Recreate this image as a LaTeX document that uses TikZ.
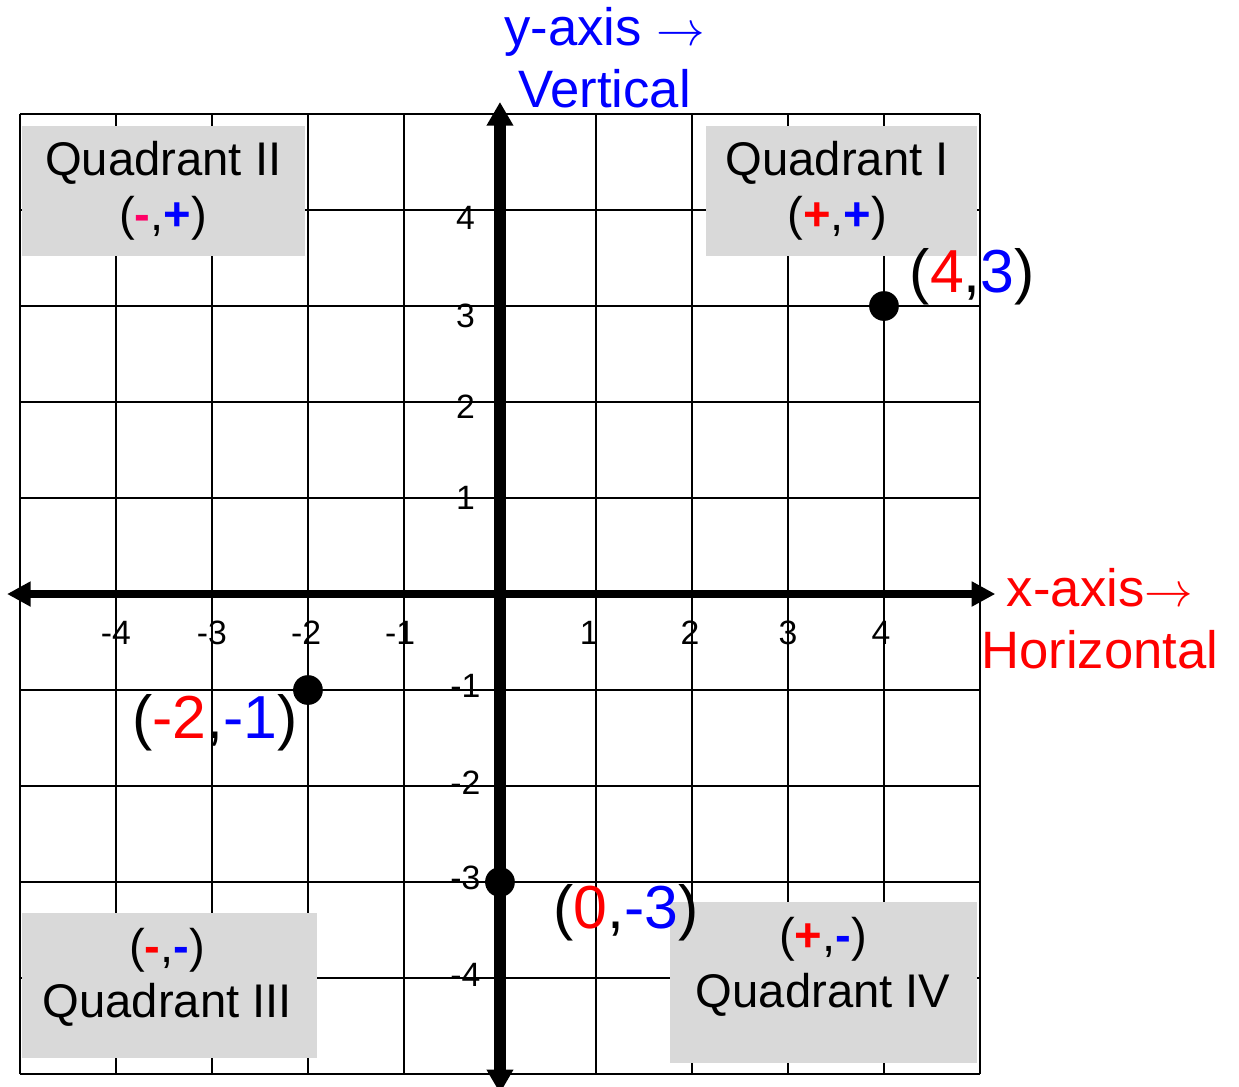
\documentclass[tikz,border=0pt]{standalone}
\usepackage{fontspec}
\setmainfont{Liberation Sans}
\usepackage{xcolor}
\usepackage{tikz}
\usetikzlibrary{positioning,arrows.meta,calc}

\definecolor{xred}{RGB}{255,0,0}
\definecolor{yblue}{RGB}{0,0,255}
\definecolor{negpink}{RGB}{255,0,102}
\definecolor{boxgray}{RGB}{217,217,217}

\newcommand{\xpart}[1]{\textcolor{xred}{#1}}
\newcommand{\ypart}[1]{\textcolor{yblue}{#1}}
\newcommand{\sgn}[2]{\textbf{\textcolor{#1}{#2}}}

\begin{document}
\begin{tikzpicture}[
    gridline/.style={draw=black, line width=0.75pt},
    xaxis/.style={{Triangle[length=7pt, width=7pt]}-{Triangle[length=7pt, width=7pt]}, line width=2.4pt},
    yaxis/.style={{Triangle[length=7pt, width=7.5pt]}-{Triangle[length=7pt, width=7.5pt]}, line width=3.6pt},
    qbox/.style={rectangle, fill=boxgray, inner sep=0pt, anchor=north west},
    qtext/.style={align=center, font=\fontsize{14}{16.4}\selectfont, inner sep=0pt},
    ptdot/.style={circle, fill=black, minimum size=0.31cm, inner sep=0pt},
    ptlab/.style={font=\fontsize{18}{21}\selectfont, inner sep=0pt},
    ticklab/.style={font=\fontsize{10}{12}\selectfont, inner sep=0pt},
    axlab/.style={align=center, font=\fontsize{15.6}{18.4}\selectfont, inner sep=0pt}
]
\useasboundingbox (-5.208,-5.125) rectangle (7.698,6.1875);

% grid
\draw[gridline] (-5,-5) grid (5,5);

% quadrant boxes
\node[qbox, minimum width=2.95cm, minimum height=1.354cm] (q2box) at (-4.99,4.885) {};
\node[qbox, minimum width=2.823cm, minimum height=1.354cm] (q1box) at (2.135,4.885) {};
\node[qbox, minimum width=3.075cm, minimum height=1.51cm] (q3box) at (-4.99,-3.3125) {};
\node[qbox, minimum width=3.198cm, minimum height=1.677cm] (q4box) at (1.76,-3.198) {};

\node[qtext] (q2text) at (q2box.center) {Quadrant II\\(\sgn{negpink}{-},\sgn{yblue}{+})};
\node[qtext] (q1text) at ($(q1box.center)+(-0.04,0)$) {Quadrant I\\(\sgn{xred}{+},\sgn{yblue}{+})};
\node[qtext] (q3text) at ($(q3box.center)+(-0.02,0.08)$) {(\sgn{xred}{-},\sgn{yblue}{-})\\Quadrant III};
\node[qtext] (q4text) at ($(q4box.center)+(0,0.16)$) {(\sgn{xred}{+},\sgn{yblue}{-})\\Quadrant IV};

% axes
\coordinate (xl) at (-5.135,0);
\coordinate (xr) at (5.16,0);
\coordinate (yt) at (0,5.125);
\coordinate (yb) at (0,-5.2);
\draw[xaxis] (xl) -- (xr);
\draw[yaxis] (yb) -- (yt);

\node[axlab, text=xred]  (xlab) at (6.25,-0.26) {x-axis$\rightarrow$\\Horizontal};
\node[axlab, text=yblue] (ylab) at (1.09,5.59) {y-axis $\rightarrow$\\Vertical};

% tick labels
\foreach \x/\xx in {-4/-4,-3/-3,-2/-2.02,-1/-1.04,1/0.93,2/1.98,3/3,4/3.97}
    \node[ticklab] (tx\x) at (\xx,-0.4) {\x};
\foreach \y/\yy in {4/3.92, 3/2.9, 2/1.95, 1/1.0, -1/-0.96, -2/-1.97, -3/-2.96, -4/-3.97}
    \node[ticklab] (ty\y) at (-0.36,\yy) {\y};

% points
\node[ptdot] (p43) at (4,3) {};
\node[ptdot] (pm2m1) at (-2,-1) {};
\node[ptdot] (p0m3) at (0,-3) {};

\node[ptlab] (l43) at (4.92,3.3) {(\xpart{4},\ypart{3})};
\node[ptlab] (lm2m1) at (-2.97,-1.34) {(\xpart{-2},\ypart{-1})};
\node[ptlab] (l0m3) at (1.31,-3.32) {(\xpart{0},\ypart{-3})};

\end{tikzpicture}
\end{document}
